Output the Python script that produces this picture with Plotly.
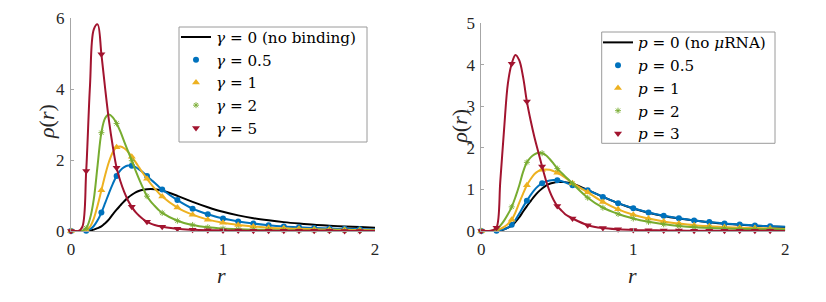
import plotly.graph_objects as go

# ---- data ----
R = [0, .025, .05, .075, .1, .125, .15, .175, .2, .225, .25, .275, .3, .325, .35, .375,
     .4, .425, .45, .475, .5, .525, .55, .575, .6, .7, .8, .9, 1.0, 1.1, 1.2, 1.3, 1.4,
     1.5, 1.6, 1.7, 1.8, 1.9, 2.0]

# left panel: gamma series
GAMMA_0 = [0, 0, 0, 0, 0, 0.01, 0.04, 0.08, 0.13, 0.22, 0.33, 0.47, 0.6, 0.72, 0.84, 0.94,
           1.02, 1.09, 1.135, 1.16, 1.175, 1.18, 1.175, 1.16, 1.14, 0.99, 0.82, 0.67, 0.54,
           0.44, 0.36, 0.3, 0.25, 0.21, 0.175, 0.15, 0.128, 0.11, 0.095]
GAMMA_05 = [0, 0, 0, 0, 0.01, 0.05, 0.14, 0.30, 0.52, 0.79, 1.07, 1.33, 1.55, 1.71, 1.80, 1.845,
            1.84, 1.80, 1.73, 1.645, 1.55, 1.45, 1.36, 1.26, 1.17, 0.87, 0.63, 0.47, 0.35,
            0.27, 0.21, 0.165, 0.13, 0.105, 0.085, 0.07, 0.06, 0.05, 0.045]
GAMMA_1 = [0, 0, 0, 0, 0.02, 0.12, 0.35, 0.72, 1.15, 1.58, 1.95, 2.22, 2.36, 2.38, 2.33, 2.23,
           2.09, 1.94, 1.78, 1.62, 1.47, 1.33, 1.2, 1.08, 0.97, 0.66, 0.46, 0.32, 0.23,
           0.17, 0.125, 0.095, 0.075, 0.06, 0.048, 0.04, 0.033, 0.028, 0.024]
GAMMA_2 = [0, 0, 0, 0.01, 0.08, 0.35, 0.9, 1.85, 2.77, 3.18, 3.28, 3.2, 3.03, 2.8, 2.52, 2.25,
           1.98, 1.7, 1.44, 1.2, 0.98, 0.83, 0.71, 0.6, 0.51, 0.29, 0.17, 0.105, 0.07,
           0.05, 0.037, 0.028, 0.022, 0.018, 0.015, 0.012, 0.01, 0.009, 0.008]
GAMMA_5 = [0, 0, 0, 0.12, 1.69, 4.1, 5.68, 5.82, 4.98, 4.0, 3.1, 2.38, 1.78, 1.4, 1.1, 0.86,
           0.68, 0.53, 0.42, 0.33, 0.26, 0.21, 0.17, 0.14, 0.12, 0.06, 0.035, 0.022, 0.015,
           0.011, 0.009, 0.007, 0.006, 0.005, 0.004, 0.004, 0.003, 0.003, 0.003]

# right panel: p series
P_0 = GAMMA_0
P_05 = [0, 0, 0, 0, 0.005, 0.02, 0.04, 0.08, 0.15, 0.27, 0.42, 0.58, 0.73, 0.87, 0.99, 1.08,
        1.15, 1.19, 1.215, 1.225, 1.22, 1.2, 1.17, 1.135, 1.1, 0.98, 0.82, 0.67, 0.545,
        0.445, 0.365, 0.305, 0.255, 0.215, 0.18, 0.155, 0.133, 0.115, 0.1]
P_1 = [0, 0, 0, 0, 0.02, 0.05, 0.1, 0.17, 0.27, 0.45, 0.68, 0.9, 1.1, 1.25, 1.37, 1.44,
       1.47, 1.48, 1.47, 1.44, 1.4, 1.35, 1.29, 1.22, 1.15, 0.93, 0.7, 0.52, 0.39,
       0.3, 0.23, 0.18, 0.14, 0.115, 0.095, 0.08, 0.07, 0.06, 0.05]
P_2 = [0, 0, 0, 0.01, 0.05, 0.13, 0.25, 0.4, 0.58, 0.82, 1.1, 1.42, 1.65, 1.77, 1.84, 1.88,
       1.87, 1.82, 1.73, 1.62, 1.5, 1.41, 1.32, 1.23, 1.14, 0.8, 0.56, 0.41, 0.3,
       0.22, 0.16, 0.12, 0.09, 0.075, 0.06, 0.05, 0.045, 0.04, 0.035]
P_3 = [0, 0, 0, 0.02, 0.08, 1.2, 2.45, 3.55, 4.02, 4.23, 4.1, 3.7, 3.11, 2.65, 2.25, 1.9,
       1.55, 1.22, 0.95, 0.75, 0.6, 0.5, 0.41, 0.35, 0.3, 0.14, 0.07, 0.04, 0.025,
       0.018, 0.013, 0.01, 0.008, 0.007, 0.006, 0.005, 0.004, 0.004, 0.003]

LEFT_NAMES = ["<i>γ</i> = 0 (no binding)", "<i>γ</i> = 0.5", "<i>γ</i> = 1",
              "<i>γ</i> = 2", "<i>γ</i> = 5"]
RIGHT_NAMES = ["<i>p</i> = 0 (no <i>μ</i>RNA)", "<i>p</i> = 0.5", "<i>p</i> = 1",
               "<i>p</i> = 2", "<i>p</i> = 3"]
X_TICKS = [0, 1, 2]
LEFT_Y_TICKS = [0, 2, 4, 6]
RIGHT_Y_TICKS = [0, 1, 2, 3, 4, 5]

# ---- styles ----
COLORS = ["#000000", "#0072BD", "#EDB120", "#77AC30", "#A2142F"]
SYMBOLS = [None, "circle", "triangle-up", "asterisk-open", "triangle-down"]
SIZES = [0, 6, 7, 5, 7]
FONT = "Liberation Serif, DejaVu Serif, serif"
LEG_FONT = "DejaVu Serif, serif"
AXCOL = "#a6a6a6"
TXTCOL = "#262626"
W, H = 826, 302

# marker positions: r = 0, 0.1, ..., 1.9
MK = [i for i, r in enumerate(R) if abs(r * 10 - round(r * 10)) < 1e-9 and r < 1.95]

fig = go.Figure()


def add_panel(series, names, xa, ya, legend):
    for k, (vals, name) in enumerate(zip(series, names)):
        if k == 0:
            fig.add_trace(go.Scatter(x=R, y=vals, mode="lines", name=name,
                                     line=dict(color=COLORS[0], width=2, shape="spline", smoothing=1),
                                     xaxis=xa, yaxis=ya, legend=legend, showlegend=True))
            continue
        fig.add_trace(go.Scatter(x=R, y=vals, mode="lines", showlegend=False,
                                 line=dict(color=COLORS[k], width=2, shape="spline", smoothing=1),
                                 xaxis=xa, yaxis=ya, hoverinfo="skip"))
        mline = dict(width=0.9, color="#9cc46a") if SYMBOLS[k] == "asterisk-open" else dict(width=0)
        fig.add_trace(go.Scatter(x=[R[i] for i in MK], y=[vals[i] for i in MK], mode="markers",
                                 name=name, cliponaxis=False,
                                 marker=dict(symbol=SYMBOLS[k], size=SIZES[k], color=COLORS[k], line=mline),
                                 xaxis=xa, yaxis=ya, legend=legend, showlegend=True))


add_panel([GAMMA_0, GAMMA_05, GAMMA_1, GAMMA_2, GAMMA_5], LEFT_NAMES, "x", "y", "legend")
add_panel([P_0, P_05, P_1, P_2, P_3], RIGHT_NAMES, "x2", "y2", "legend2")

axis_common = dict(showline=True, linecolor=AXCOL, linewidth=1, showgrid=False, zeroline=False,
                   ticks="inside", ticklen=3, tickcolor=AXCOL, mirror=False, automargin=False,
                   tickfont=dict(family=FONT, size=17, color=TXTCOL))

y_bot = (H - 231) / H
legend_common = dict(xanchor="left", yanchor="top", bgcolor="rgba(0,0,0,0)", borderwidth=0,
                     font=dict(family=LEG_FONT, size=15.2, color="#000000"),
                     itemwidth=30, tracegroupgap=0)

fig.update_layout(
    width=W, height=H, margin=dict(l=0, r=0, t=0, b=0, autoexpand=False),
    paper_bgcolor="white", plot_bgcolor="white",
    font=dict(family=FONT),
    xaxis=dict(domain=[71 / W, 375 / W], range=[0, 2], tickvals=X_TICKS, anchor="y",
               ticklabelstandoff=3, **axis_common),
    yaxis=dict(domain=[y_bot, (H - 18) / H], range=[0, 6], tickvals=LEFT_Y_TICKS, anchor="x",
               ticklabelstandoff=2, **axis_common),
    xaxis2=dict(domain=[481.3 / W, 785.3 / W], range=[0, 2], tickvals=X_TICKS, anchor="y2",
                ticklabelstandoff=3, **axis_common),
    yaxis2=dict(domain=[y_bot, (H - 23) / H], range=[0, 5], tickvals=RIGHT_Y_TICKS, anchor="x2",
                ticklabelstandoff=2, **axis_common),
    legend=dict(x=176 / W, y=(H - 20.5) / H, **legend_common),
    legend2=dict(x=598 / W, y=(H - 26) / H, **legend_common),
    showlegend=True,
)

# legend frames (white boxes with grey border, drawn above the curves)
for x0, y0, x1, y1 in [(179, 27, 367, 142), (601.7, 32, 775, 143.3)]:
    fig.add_shape(type="rect", xref="paper", yref="paper", layer="above",
                  x0=x0 / W, x1=x1 / W, y0=(H - y1) / H, y1=(H - y0) / H,
                  fillcolor="white", line=dict(color="#9a9a9a", width=1))

lab_font = dict(family=FONT, size=22, color=TXTCOL)
for txt, xc, yc, ang in [("<i>ρ</i>(<i>r</i>)", 47, 122, -90), ("<i>ρ</i>(<i>r</i>)", 458.7, 126, -90),
                         ("<i>r</i>", 221, 275, 0), ("<i>r</i>", 632, 275, 0)]:
    fig.add_annotation(text=txt, x=xc / W, y=(H - yc) / H, xref="paper", yref="paper",
                       xanchor="center", yanchor="middle", textangle=ang, showarrow=False, font=lab_font)

fig.write_html("out.html", config={"displayModeBar": False},
               post_script="document.body.style.margin='0px';")
